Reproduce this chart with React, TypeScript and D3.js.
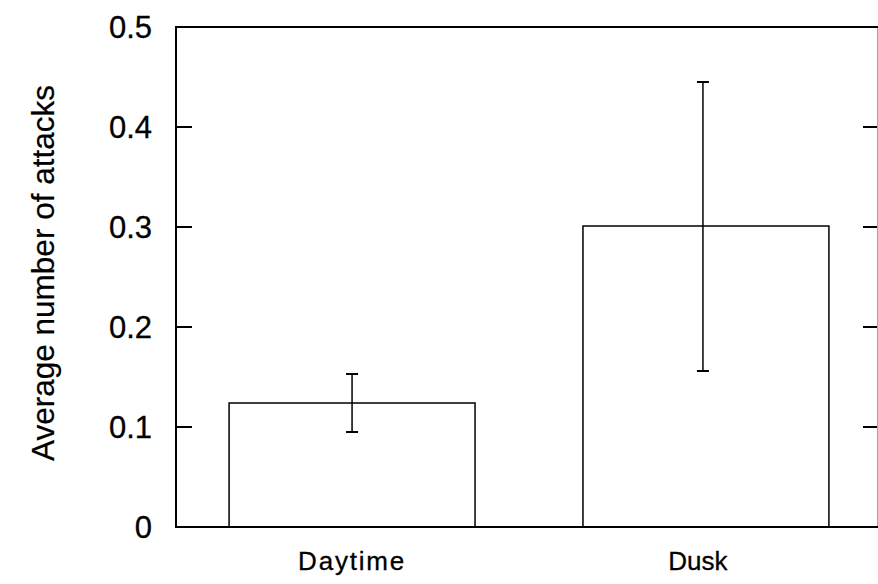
import React from "react";
import * as d3 from "d3";

const categories = ["Daytime", "Dusk"];
const means = [0.124, 0.301];
const errLow = [0.095, 0.156];
const errHigh = [0.153, 0.445];
const yTicks = [0, 0.1, 0.2, 0.3, 0.4, 0.5];
const yTickLabels = ["0", "0.1", "0.2", "0.3", "0.4", "0.5"];
const yLabel = "Average number of attacks";

const W = 878;
const H = 584;
const left = 176;
const right = 877;
const top = 27;
const bottom = 527;

export default function App() {
  const y = d3.scaleLinear().domain([0, 0.5]).range([bottom, top]);
  const x = d3
    .scaleBand<string>()
    .domain(categories)
    .range([left, 882])
    .paddingInner(0.305)
    .paddingOuter(0.15);
  const font = "'Liberation Sans', Arial, Helvetica, sans-serif";
  return (
    <svg
      width={W}
      height={H}
      style={{ position: "absolute", left: 0, top: 0, background: "#fff" }}
    >
      <rect x={0} y={0} width={W} height={H} fill="#fff" />
      {/* bars */}
      {categories.map((c, i) => (
        <rect
          key={c}
          x={x(c)!}
          y={y(means[i])}
          width={x.bandwidth()}
          height={y(0) - y(means[i])}
          fill="#fff"
          stroke="#000"
          strokeWidth={1.5}
        />
      ))}
      {/* error bars */}
      {categories.map((c, i) => {
        const cx = x(c)! + x.bandwidth() / 2 - (i === 1 ? 3 : 0);
        return (
          <g key={"e" + c} stroke="#000" strokeWidth={1.5}>
            <line x1={cx} x2={cx} y1={y(errLow[i])} y2={y(errHigh[i])} />
            <line x1={cx - 6} x2={cx + 6} y1={y(errLow[i])} y2={y(errLow[i])} strokeWidth={2} />
            <line x1={cx - 6} x2={cx + 6} y1={y(errHigh[i])} y2={y(errHigh[i])} strokeWidth={2} />
          </g>
        );
      })}
      {/* frame */}
      <line x1={left} x2={left} y1={top - 1} y2={bottom + 1} stroke="#000" strokeWidth={2} />
      <line x1={left - 1} x2={W} y1={bottom} y2={bottom} stroke="#000" strokeWidth={2} />
      <line x1={left - 1} x2={W} y1={top} y2={top} stroke="#000" strokeWidth={2} />
      <line x1={right + 0.5} x2={right + 0.5} y1={top} y2={bottom} stroke="#000" strokeWidth={1} opacity={0.35} />
      {/* ticks */}
      {yTicks.map((t, i) => (
        <g key={"t" + i}>
          {i > 0 && i < yTicks.length - 1 && (
            <>
              <line x1={left} x2={left + 16} y1={y(t)} y2={y(t)} stroke="#000" strokeWidth={2} />
              <line x1={right - 14} x2={right} y1={y(t)} y2={y(t)} stroke="#000" strokeWidth={2} />
            </>
          )}
          <text
            x={152}
            y={y(t)}
            dy="0.36em"
            textAnchor="end"
            fontFamily={font}
            fontSize={31}
            fill="#000"
            stroke="#000"
            strokeWidth={0.3}
          >
            {yTickLabels[i]}
          </text>
        </g>
      ))}
      {/* category labels */}
      {categories.map((c, i) => (
        <text
          key={"l" + c}
          x={x(c)! + x.bandwidth() / 2 - (i === 1 ? 8 : 0)}
          y={570}
          textAnchor="middle"
          fontFamily={font}
          fontSize={26}
          letterSpacing={i === 0 ? 1.8 : 0}
          fill="#000"
          stroke="#000"
          strokeWidth={0.3}
        >
          {c}
        </text>
      ))}
      {/* y label */}
      <text
        transform={`translate(54, ${(top + bottom) / 2 - 4}) rotate(-90)`}
        textAnchor="middle"
        fontFamily={font}
        fontSize={31.5}
        fill="#000"
        stroke="#000"
        strokeWidth={0.2}
      >
        {yLabel}
      </text>
    </svg>
  );
}
